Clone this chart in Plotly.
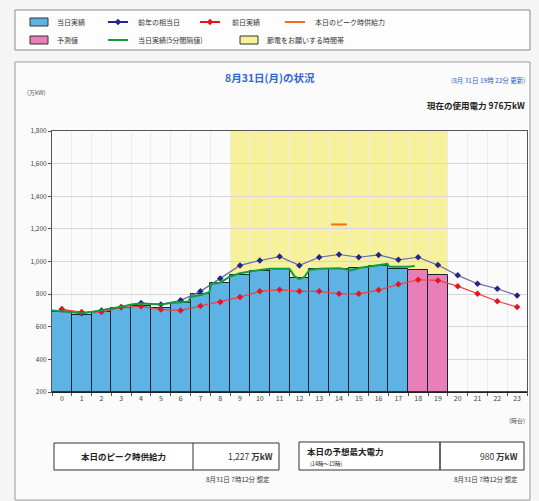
import plotly.graph_objects as go

# ---------------- data ----------------
hours = list(range(24))
tick_labels = [str(h) for h in hours]

actual_hours = list(range(0, 18))
actual_vals = [690, 672, 688, 717, 725, 715, 743, 798, 866, 918, 941, 951, 898, 951, 957, 960, 973, 957]

forecast_hours = [18, 19]
forecast_vals = [945, 915]

prev_year_vals = [707, 682, 700, 721, 745, 737, 762, 817, 896, 976, 1006, 1030, 976, 1026, 1043, 1026,
                  1040, 1010, 1026, 978, 915, 864, 833, 792]

prev_day_vals = [707, 690, 690, 719, 725, 705, 700, 727, 752, 782, 817, 827, 817, 817, 802, 802,
                 825, 860, 888, 884, 849, 803, 756, 721]

# 5-minute actual line, sampled (time in hours since 0:00)
green_t = [0.0, 0.5, 1.0, 1.5, 2.0, 2.5, 3.0, 3.5, 4.0, 4.5, 5.0, 5.5, 6.0, 6.5, 6.9, 7.0, 7.5, 7.95,
           8.05, 8.5, 9.0, 9.5, 10.0, 10.5, 11.0, 11.5, 12.0, 12.25, 12.5, 12.75, 13.0, 13.5, 14.0,
           14.5, 15.0, 15.1, 15.5, 16.0, 16.5, 16.95, 17.05, 17.5, 18.0, 18.33]
green_v = [700, 695, 686, 683, 690, 700, 712, 722, 737, 742, 740, 736, 745, 752, 755, 782, 795, 812,
           862, 870, 908, 928, 940, 948, 955, 957, 955, 910, 892, 905, 948, 955, 957, 958, 950, 945,
           960, 970, 978, 985, 968, 966, 968, 972]

peak_supply = 1227
peak_hour = 14
demand_peak = 980
current_usage = 976

saving_band = [9, 19]  # hours of the yellow band

# ---------------- geometry helpers ----------------
W, H = 539, 501
PL, PR, PT, PB = 52, 527, 131, 392


def px(x):
    return (x - PL) / (PR - PL)


def py(y):
    return (PB - y) / (PB - PT)


FONT = "Noto Sans CJK JP"
BLUE_FILL = "#5cb3e4"
PINK_FILL = "#e97fb8"
NAVY = "#24248c"
RED = "#e8141e"
GREEN = "#139a3c"
ORANGE = "#ff6a10"
YELLOW = "#f8f19c"

fig = go.Figure()

# bars
fig.add_trace(go.Bar(x=actual_hours, y=actual_vals, width=1.0, base=0,
                     marker=dict(color=BLUE_FILL, line=dict(color="#17242f", width=1))))
fig.add_trace(go.Bar(x=forecast_hours, y=forecast_vals, width=1.0, base=0,
                     marker=dict(color=PINK_FILL, line=dict(color="#17242f", width=1))))

# prev-year line
fig.add_trace(go.Scatter(x=hours, y=prev_year_vals, mode="lines+markers",
                         line=dict(color="#6a6aa8", width=1.2),
                         marker=dict(symbol="diamond", size=5, color=NAVY)))
# prev-day line
fig.add_trace(go.Scatter(x=hours, y=prev_day_vals, mode="lines+markers",
                         line=dict(color="#f04040", width=1.2),
                         marker=dict(symbol="diamond", size=5, color=RED)))
# 5-min actual line
fig.add_trace(go.Scatter(x=[t - 0.5 for t in green_t], y=green_v, mode="lines",
                         line=dict(color=GREEN, width=2)))
# peak supply
fig.add_trace(go.Scatter(x=[peak_hour - 0.4, peak_hour + 0.4], y=[peak_supply, peak_supply],
                         mode="lines", line=dict(color=ORANGE, width=2)))

shapes = []
# main panel frame
shapes.append(dict(type="rect", xref="paper", yref="paper", x0=px(15), x1=px(530), y0=py(500), y1=py(62),
                   line=dict(color="#9a9a9a", width=1), fillcolor="#fbfbfb", layer="below"))
# legend frame
shapes.append(dict(type="rect", xref="paper", yref="paper", x0=px(15), x1=px(530), y0=py(50), y1=py(10),
                   line=dict(color="#8a8a8a", width=1), fillcolor="#fdfdfd", layer="below"))
# yellow band
shapes.append(dict(type="rect", xref="x", yref="y", x0=saving_band[0] - 0.5, x1=saving_band[1] + 0.5,
                   y0=200, y1=1800, fillcolor=YELLOW, line=dict(width=0), layer="below"))
# dark baseline
shapes.append(dict(type="line", xref="paper", yref="paper", x0=0, x1=1, y0=0, y1=0,
                   line=dict(color="#111", width=1.5)))


def legend_rect(x, y, color):
    shapes.append(dict(type="rect", xref="paper", yref="paper", x0=px(x), x1=px(x + 18),
                       y0=py(y + 4), y1=py(y - 4), fillcolor=color, line=dict(color="#333", width=1)))


def legend_line(x, y, color):
    shapes.append(dict(type="line", xref="paper", yref="paper", x0=px(x), x1=px(x + 20),
                       y0=py(y), y1=py(y), line=dict(color=color, width=2)))


def legend_diamond(x, y, color, r=3):
    pts = [(x, y - r), (x + r, y), (x, y + r), (x - r, y)]
    path = "M " + " L ".join("%f,%f" % (px(a), py(b)) for a, b in pts) + " Z"
    shapes.append(dict(type="path", xref="paper", yref="paper", path=path, fillcolor=color,
                       line=dict(color=color, width=0.5)))


legend_rect(30, 22, BLUE_FILL)
legend_rect(30, 40, PINK_FILL)
legend_rect(240, 40, YELLOW)
legend_line(108, 22, NAVY)
legend_diamond(118, 22, NAVY)
legend_line(200, 22, RED)
legend_diamond(210, 22, RED)
legend_line(285, 22, ORANGE)
legend_line(108, 40, GREEN)

# bottom boxes
shapes.append(dict(type="rect", xref="paper", yref="paper", x0=px(54), x1=px(279), y0=py(470), y1=py(443),
                   line=dict(color="#333", width=1), fillcolor="#ffffff"))
shapes.append(dict(type="line", xref="paper", yref="paper", x0=px(193), x1=px(193), y0=py(470), y1=py(443),
                   line=dict(color="#333", width=1)))
shapes.append(dict(type="rect", xref="paper", yref="paper", x0=px(299), x1=px(524), y0=py(470), y1=py(442),
                   line=dict(color="#333", width=1), fillcolor="#ffffff"))
shapes.append(dict(type="line", xref="paper", yref="paper", x0=px(440), x1=px(440), y0=py(470), y1=py(442),
                   line=dict(color="#333", width=1.5)))

annotations = []


def text(x, y, s, size=7, color="#333", xanchor="left", bold=False):
    annotations.append(dict(xref="paper", yref="paper", x=px(x), y=py(y), text=("<b>%s</b>" % s) if bold else s,
                            showarrow=False, xanchor=xanchor, yanchor="middle",
                            font=dict(family=FONT, size=size, color=color)))


text(55, 22, "当日実績", 7)
text(136, 22, "前年の相当日", 7)
text(230, 22, "前日実績", 7)
text(313, 22, "本日のピーク時供給力", 7)
text(55, 40, "予測値", 7)
text(136, 40, "当日実績(5分間隔値)", 7)
text(265, 40, "節電をお願いする時間帯", 7)

text(270, 77, "8月31日(月)の状況", 10.5, "#3366d6", "center", True)
text(527, 80, "(8月 31日 19時 22分 更新)", 6.5, "#2a5fd0", "right")
text(25, 92, "(万kW)", 6, "#555")
text(527, 105, "現在の使用電力 %d万kW" % current_usage, 8.5, "#222", "right", True)
text(527, 420, "(時台)", 6, "#555", "right")

text(123, 456, "本日のピーク時供給力", 8.5, "#222", "center", True)
text(275, 456, "{:,} <b>万kW</b>".format(peak_supply), 8.5, "#333", "right")
text(272, 479, "8月31日 7時12分 想定", 6.5, "#333", "right")
text(305, 451, "本日の予想最大電力", 8.5, "#222", "left", True)
text(308, 464, "(14時〜15時)", 5.5, "#222", "left")
text(520, 456, "{:,} <b>万kW</b>".format(demand_peak), 8.5, "#333", "right")
text(520, 479, "8月31日 7時12分 想定", 6.5, "#333", "right")

fig.update_layout(
    width=W, height=H, autosize=False,
    margin=dict(l=PL, r=W - PR, t=PT, b=H - PB, pad=0),
    paper_bgcolor="#f5f5f5", plot_bgcolor="#ffffff",
    showlegend=False, barmode="overlay", bargap=0,
    shapes=shapes, annotations=annotations,
    font=dict(family=FONT),
    xaxis=dict(range=[-0.5, 23.5], tickvals=hours, ticktext=tick_labels, showgrid=False,
               tickfont=dict(size=7, color="#444"), ticks="", showline=True, linecolor="#555",
               linewidth=1, mirror=True, zeroline=False,
               minor=dict(tick0=-0.5, dtick=1, showgrid=True, gridcolor="#ececec", ticks="outside",
                          ticklen=3, tickcolor="#555")),
    yaxis=dict(range=[200, 1800], dtick=200, tick0=200, tickformat=",", showgrid=True,
               gridcolor="#d6d6d6", tickfont=dict(size=6.5, color="#444"), ticks="outside",
               ticklen=3, tickcolor="#555", showline=True, linecolor="#555", linewidth=1,
               mirror=True, zeroline=False),
)

fig.write_html("out.html")
